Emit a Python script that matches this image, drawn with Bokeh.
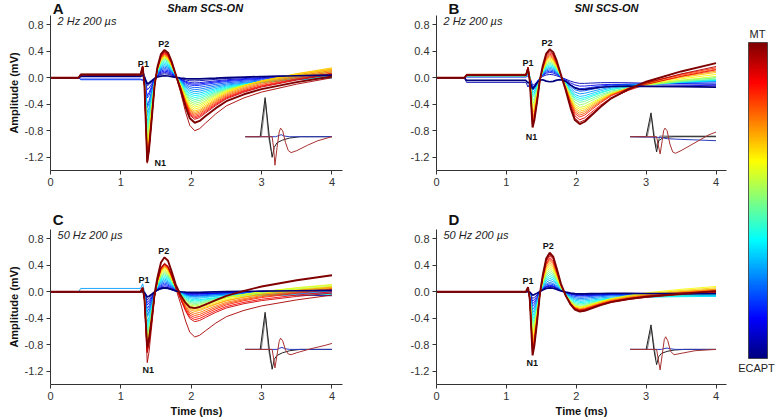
import numpy as np
from bokeh.plotting import figure
from bokeh.models import Range1d, FixedTicker, PrintfTickFormatter, Label, ColumnDataSource, LinearColorMapper
from bokeh.layouts import row, column
from bokeh.embed import file_html
from bokeh.resources import INLINE

# ---------------- data ----------------
# time knots (ms) and the normalised profile of each waveform component
KNOTS = [0, 0.40, 0.43, 1.28, 1.31, 1.335, 1.375, 1.40, 1.44, 1.48, 1.52, 1.57, 1.62, 1.67,
         1.72, 1.78, 1.85, 1.92, 1.98, 2.05, 2.12, 2.2, 2.35, 2.5, 2.75, 3.0, 3.5, 4.0]
W_BASE = [0, 0, 1, 1, 1, 1, 0.5, 0.3, 0.1, 0, 0, 0, 0, 0, 0, 0, 0, 0, 0, 0, 0, 0, 0, 0, 0, 0, 0, 0]
W_P1 = [0, 0, 0, 0, 1, 0, 0, 0, 0, 0, 0, 0, 0, 0, 0, 0, 0, 0, 0, 0, 0, 0, 0, 0, 0, 0, 0, 0]
W_N1 = [0, 0, 0, 0, 0, 0.12, 1, 0.85, 0.47, 0.15, 0.02, 0, 0, 0, 0, 0, 0, 0, 0, 0, 0, 0, 0, 0, 0, 0, 0, 0]
W_P2 = [0, 0, 0, 0, 0, 0, 0, 0, 0, 0.2, 0.45, 0.85, 1, 0.9, 0.6, 0.25, 0.05, 0, 0, 0, 0, 0, 0, 0, 0, 0, 0, 0]
W_TR = [0, 0, 0, 0, 0, 0, 0, 0, 0, 0, 0, 0, 0, 0, 0, 0.08, 0.3, 0.65, 0.9, 1, 0.96, 0.86, 0.68, 0.53, 0.38, 0.27, 0.12, 0]
W_END = [0, 0, 0, 0, 0, 0, 0, 0, 0, 0, 0, 0, 0, 0, 0, 0, 0, 0, 0, 0.05, 0.08, 0.12, 0.2, 0.3, 0.45, 0.6, 0.82, 1]

# Panel A  (Sham SCS-ON, 2 Hz) - traces from ECAPT (first) to MT (last)
A_n1 = [-0.10, -0.14, -0.20, -0.26, -0.33, -0.40, -0.47, -0.54, -0.60, -0.66, -0.72, -0.78, -0.84,
        -0.90, -0.96, -1.01, -1.06, -1.10, -1.14, -1.18, -1.21, -1.24, -1.27, -1.29, -1.31, -1.30]
A_p2 = [0.03, 0.06, 0.08, 0.10, 0.12, 0.14, 0.16, 0.18, 0.20, 0.22, 0.24, 0.26, 0.28,
        0.29, 0.30, 0.31, 0.32, 0.33, 0.34, 0.35, 0.36, 0.37, 0.38, 0.39, 0.40, 0.42]
A_tr = [-0.02, -0.05, -0.08, -0.10, -0.12, -0.15, -0.18, -0.21, -0.24, -0.27, -0.30, -0.33, -0.36,
        -0.39, -0.42, -0.45, -0.48, -0.51, -0.53, -0.55, -0.57, -0.59, -0.61, -0.63, -0.80, -0.68]
A_end = [0.04, 0.05, 0.04, 0.03, 0.02, 0.01, 0.00, 0.00, 0.00, 0.01, 0.02, 0.04, 0.06,
         0.08, 0.10, 0.12, 0.14, 0.15, 0.13, 0.11, 0.09, 0.07, 0.06, 0.05, 0.00, 0.02]
A_base = [0.02, 0.05, 0.04, -0.02, 0.05, -0.03, 0.04, 0.03, 0.05, 0.02, 0.04, 0.03, 0.05,
          0.04, 0.03, 0.05, 0.04, 0.05, 0.03, 0.04, 0.05, 0.03, 0.04, 0.05, 0.04, 0.05]
A_p1 = [0.00, 0.01, 0.01, 0.01, 0.02, 0.02, 0.02, 0.03, 0.03, 0.03, 0.04, 0.04, 0.04,
        0.05, 0.05, 0.05, 0.06, 0.06, 0.06, 0.07, 0.07, 0.07, 0.07, 0.08, 0.08, 0.07]

# Panel B  (SNI SCS-ON, 2 Hz)
B_n1 = [-0.15, -0.12, -0.13, -0.15, -0.18, -0.21, -0.24, -0.28, -0.32, -0.37,
        -0.42, -0.47, -0.52, -0.57, -0.62, -0.66, -0.70, -0.73, -0.76, -0.77]
B_p2 = [-0.06, 0.05, 0.08, 0.10, 0.12, 0.14, 0.16, 0.18, 0.20, 0.22,
        0.24, 0.26, 0.28, 0.30, 0.32, 0.34, 0.36, 0.38, 0.40, 0.43]
B_tr = [-0.17, -0.08, -0.12, -0.16, -0.20, -0.24, -0.28, -0.31, -0.34, -0.37,
        -0.41, -0.45, -0.48, -0.51, -0.54, -0.57, -0.60, -0.64, -0.68, -0.71]
B_end = [-0.14, -0.10, -0.12, -0.08, -0.06, -0.05, -0.03, -0.04, 0.00, -0.02,
         0.00, 0.02, 0.05, 0.08, 0.10, 0.13, 0.15, 0.12, 0.17, 0.22]
B_base = [-0.04, -0.07, 0.03, 0.01, 0.02, 0.04, 0.02, 0.03, 0.05, 0.04,
          0.03, 0.05, 0.04, 0.05, 0.03, 0.05, 0.04, 0.05, 0.05, 0.04]
B_p1 = [0.00, 0.00, 0.01, 0.01, 0.02, 0.02, 0.02, 0.03, 0.03, 0.03,
        0.04, 0.04, 0.04, 0.05, 0.05, 0.05, 0.06, 0.06, 0.06, 0.06]

# Panel C  (Sham SCS-ON, 50 Hz)
C_n1 = [-0.08, -0.12, -0.16, -0.20, -0.25, -0.30, -0.35, -0.40, -0.45, -0.50, -0.55, -0.60, -0.64,
        -0.68, -0.72, -0.75, -0.78, -0.80, -0.82, -0.84, -0.86, -0.88, -0.90, -0.92, -1.07, -0.84]
C_p2 = [0.06, 0.05, 0.07, 0.09, 0.11, 0.13, 0.15, 0.17, 0.19, 0.21, 0.23, 0.25, 0.27,
        0.29, 0.31, 0.33, 0.35, 0.37, 0.38, 0.39, 0.40, 0.41, 0.42, 0.43, 0.42, 0.52]
C_tr = [-0.01, -0.02, -0.03, -0.04, -0.05, -0.06, -0.07, -0.08, -0.10, -0.12, -0.14, -0.16, -0.18,
        -0.20, -0.22, -0.24, -0.26, -0.28, -0.30, -0.33, -0.36, -0.39, -0.42, -0.45, -0.68, -0.26]
C_end = [0.02, -0.06, 0.01, 0.03, 0.00, -0.02, 0.02, -0.03, 0.00, -0.04, 0.02, 0.04, 0.06,
         0.08, 0.10, 0.11, 0.08, 0.06, 0.07, 0.05, 0.04, 0.03, 0.00, -0.02, -0.05, 0.25]
C_base = [0.00, 0.00, 0.00, 0.00, 0.00, 0.00, 0.00, 0.05, 0.00, 0.00, 0.00, 0.00, 0.00,
          0.00, 0.00, 0.00, 0.00, 0.00, 0.00, 0.00, 0.00, 0.00, 0.00, 0.00, 0.00, 0.00]
C_p1 = [0.00, 0.00, 0.01, 0.01, 0.01, 0.02, 0.02, 0.02, 0.02, 0.03, 0.03, 0.03, 0.03,
        0.04, 0.04, 0.04, 0.04, 0.05, 0.05, 0.05, 0.05, 0.05, 0.06, 0.06, 0.06, 0.06]

# Panel D  (SNI SCS-ON, 50 Hz)
D_n1 = [-0.05, -0.10, -0.14, -0.18, -0.22, -0.27, -0.32, -0.37, -0.42, -0.47, -0.52,
        -0.57, -0.62, -0.67, -0.72, -0.77, -0.81, -0.85, -0.88, -0.91, -0.94, -0.96]
D_p2 = [0.06, 0.08, 0.09, 0.10, 0.12, 0.14, 0.17, 0.20, 0.23, 0.26, 0.29,
        0.32, 0.35, 0.38, 0.41, 0.44, 0.47, 0.49, 0.51, 0.54, 0.56, 0.59]
D_tr = [-0.03, -0.04, -0.05, -0.06, -0.08, -0.10, -0.12, -0.14, -0.16, -0.18, -0.20,
        -0.22, -0.23, -0.24, -0.25, -0.26, -0.27, -0.27, -0.28, -0.28, -0.29, -0.30]
D_end = [-0.03, -0.05, -0.06, -0.04, -0.02, -0.03, -0.05, -0.07, -0.06, -0.04, -0.02,
         0.00, 0.04, 0.08, 0.06, 0.04, 0.03, 0.02, 0.01, 0.00, -0.01, 0.01]
D_base = [0.00] * 22
D_p1 = [0.00, 0.00, 0.01, 0.01, 0.01, 0.02, 0.02, 0.02, 0.03, 0.03, 0.03,
        0.04, 0.04, 0.04, 0.05, 0.05, 0.05, 0.06, 0.06, 0.06, 0.07, 0.07]

# Insets (stimulus artefact in black/grey, MT response in red, ECAPT response in blue)
IA_black_t = [2.77, 2.98, 3.05, 3.11, 3.15, 3.18, 3.22, 3.3, 3.4, 3.55, 4.0]
IA_black_y = [-0.89, -0.89, -0.30, -0.89, -1.20, -1.05, -0.98, -0.94, -0.91, -0.89, -0.89]
IA_grey_t = [2.995, 3.055, 3.10, 3.135]
IA_grey_y = [-0.89, -0.36, -0.89, -1.10]
IA_red_t = [2.77, 3.15, 3.17, 3.19, 3.22, 3.25, 3.27, 3.30, 3.34, 3.38, 3.42, 3.5, 3.65, 3.8, 4.0]
IA_red_y = [-0.89, -0.89, -1.05, -1.32, -1.05, -0.82, -0.76, -0.80, -0.98, -1.10, -1.13, -1.10, -1.02, -0.95, -0.89]
IA_blue_t = [2.77, 3.2, 3.25, 3.28, 3.32, 3.4, 4.0]
IA_blue_y = [-0.89, -0.89, -0.87, -0.86, -0.88, -0.89, -0.89]

IB_black_t = [2.77, 3.0, 3.07, 3.11, 3.15, 3.18, 3.25, 3.4, 4.0]
IB_black_y = [-0.89, -0.89, -0.53, -0.89, -1.12, -0.95, -0.90, -0.89, -0.89]
IB_grey_t = [3.015, 3.075, 3.12, 3.14, 3.2, 4.0]
IB_grey_y = [-0.89, -0.58, -0.89, -1.05, -0.88, -0.88]
IB_red_t = [2.77, 3.15, 3.17, 3.2, 3.23, 3.25, 3.27, 3.3, 3.34, 3.38, 3.42, 3.5, 3.7, 3.9, 4.0]
IB_red_y = [-0.89, -0.89, -1.0, -1.15, -0.95, -0.80, -0.76, -0.80, -1.0, -1.12, -1.14, -1.10, -0.98, -0.86, -0.82]
IB_blue_t = [2.77, 3.2, 3.3, 3.5, 4.0]
IB_blue_y = [-0.89, -0.90, -0.92, -0.93, -0.95]

IC_black_t = [2.77, 2.98, 3.05, 3.11, 3.15, 3.18, 3.22, 3.3, 3.4, 3.55, 4.0]
IC_black_y = [-0.87, -0.87, -0.31, -0.87, -1.17, -1.02, -0.96, -0.92, -0.89, -0.87, -0.87]
IC_grey_t = [2.995, 3.055, 3.10, 3.135]
IC_grey_y = [-0.87, -0.37, -0.87, -1.08]
IC_red_t = [2.77, 3.15, 3.17, 3.19, 3.22, 3.25, 3.27, 3.30, 3.34, 3.38, 3.42, 3.5, 3.7, 3.9, 4.0]
IC_red_y = [-0.87, -0.87, -1.0, -1.15, -0.95, -0.75, -0.70, -0.74, -0.88, -0.94, -0.95, -0.92, -0.86, -0.81, -0.78]
IC_blue_t = [2.77, 3.22, 3.26, 3.29, 3.33, 3.4, 4.0]
IC_blue_y = [-0.87, -0.87, -0.85, -0.84, -0.86, -0.87, -0.87]

ID_black_t = [2.77, 3.0, 3.07, 3.11, 3.15, 3.18, 3.22, 3.3, 3.4, 3.55, 4.0]
ID_black_y = [-0.87, -0.87, -0.50, -0.87, -1.10, -0.98, -0.93, -0.90, -0.88, -0.87, -0.87]
ID_grey_t = [3.015, 3.075, 3.12, 3.14]
ID_grey_y = [-0.87, -0.55, -0.87, -1.02]
ID_red_t = [2.77, 3.15, 3.17, 3.2, 3.23, 3.26, 3.28, 3.31, 3.35, 3.4, 3.5, 3.7, 4.0]
ID_red_y = [-0.87, -0.87, -1.0, -1.18, -0.95, -0.72, -0.68, -0.74, -0.90, -0.95, -0.93, -0.89, -0.87]
ID_blue_t = [2.77, 3.22, 3.27, 3.3, 3.34, 3.42, 4.0]
ID_blue_y = [-0.87, -0.87, -0.855, -0.85, -0.86, -0.87, -0.87]

X_TICKS = [0, 1, 2, 3, 4]
Y_TICKS = [-1.2, -0.8, -0.4, 0.0, 0.4, 0.8]

FONT = "Liberation Sans"
TXT = "#333333"


def jet(x):
    r = min(max(1.5 - abs(4 * x - 3), 0), 1)
    g = min(max(1.5 - abs(4 * x - 2), 0), 1)
    b = min(max(1.5 - abs(4 * x - 1), 0), 1)
    return "#%02x%02x%02x" % (int(r * 255), int(g * 255), int(b * 255))


def traces(n1, p2, tr, en, base, p1):
    K = np.array(KNOTS)
    out = []
    for i in range(len(n1)):
        y = (base[i] * np.array(W_BASE) + (base[i] + p1[i]) * np.array(W_P1)
             + n1[i] * np.array(W_N1) + p2[i] * np.array(W_P2)
             + tr[i] * np.array(W_TR) + en[i] * np.array(W_END))
        out.append((K, y))
    return out


def header(width, height, letter, letter_x, letter_y, title=None, title_x=None, title_y=None):
    h = figure(width=width, height=height, output_backend="svg", toolbar_location=None,
               x_range=Range1d(0, width), y_range=Range1d(0, height),
               x_axis_type=None, y_axis_type=None, min_border=0)
    h.outline_line_color = None
    h.grid.visible = False
    h.add_layout(Label(x=letter_x, y=letter_y, text=letter, text_font=FONT, text_font_size="15px",
                       text_font_style="bold", text_color="#111111", text_baseline="middle",
                       text_align="left"))
    if title:
        h.add_layout(Label(x=title_x, y=title_y, text=title, text_font=FONT, text_font_size="11px",
                           text_font_style="bold italic", text_color="#111111", text_baseline="middle",
                           text_align="center"))
    return h


def panel(data, inset, width, height, mbl, mbr, mbb, note, peaks, ylabel, xlabel):
    p = figure(width=width, height=height, output_backend="svg", toolbar_location=None,
               x_range=Range1d(0, 4.15), y_range=Range1d(-1.4, 0.94),
               min_border_left=mbl, min_border_right=mbr, min_border_top=0, min_border_bottom=mbb)
    p.outline_line_color = None
    p.grid.visible = False
    for ax in (p.xaxis[0], p.yaxis[0]):
        ax.axis_line_color = TXT
        ax.major_tick_line_color = TXT
        ax.major_tick_out = 4
        ax.major_tick_in = 0
        ax.minor_tick_line_color = None
        ax.major_label_text_font = FONT
        ax.major_label_text_font_size = "11px"
        ax.major_label_text_color = TXT
        ax.major_label_standoff = 3
        ax.axis_label_text_font = FONT
        ax.axis_label_text_font_size = "11px"
        ax.axis_label_text_font_style = "bold"
        ax.axis_label_text_color = "#111111"
        ax.axis_label_standoff = 2
    p.xaxis.ticker = FixedTicker(ticks=X_TICKS)
    p.yaxis.ticker = FixedTicker(ticks=Y_TICKS)
    p.yaxis.formatter = PrintfTickFormatter(format="%.1f")
    if ylabel:
        p.yaxis.axis_label = ylabel
    if xlabel:
        p.xaxis.axis_label = xlabel

    tr = traces(*data)
    n = len(tr)
    cols = [jet(i / (n - 1)) for i in range(n)]
    src = ColumnDataSource(dict(xs=[t[0] for t in tr[1:-1]], ys=[t[1] for t in tr[1:-1]], c=cols[1:-1]))
    p.multi_line("xs", "ys", line_color="c", line_width=0.9, source=src)
    p.line(tr[0][0], tr[0][1], line_color=cols[0], line_width=1.7)
    p.line(tr[-1][0], tr[-1][1], line_color=cols[-1], line_width=1.9)

    (bt, by), (gt, gy), (rt, ry), (ut, uy) = inset
    p.line(gt, gy, line_color="#8a8a8a", line_width=1.2)
    p.line(bt, by, line_color="#222222", line_width=1.0)
    p.line(ut, uy, line_color="#2b3bbf", line_width=1.0)
    p.line(rt, ry, line_color="#a83232", line_width=1.0)

    p.add_layout(Label(x=0.1, y=0.86, text=note, text_font=FONT, text_font_size="11px",
                       text_font_style="italic", text_color="#222222", text_baseline="middle"))
    for name, (x, y) in zip(["P1", "P2", "N1"], peaks):
        p.add_layout(Label(x=x, y=y, text=name, text_font=FONT, text_font_size="9px",
                           text_font_style="bold", text_color="#111111", text_baseline="middle",
                           text_align="center"))
    return p


WL, WR = 370, 360          # column widths
H_TOP_HEAD, H_TOP = 15, 190
H_BOT_HEAD, H_BOT = 24, 190

hA = header(WL, H_TOP_HEAD, "A", 3, 7.5, "Sham SCS-ON", 196, 7.5)
hB = header(WR, H_TOP_HEAD, "B", 15, 7.5, "SNI SCS-ON", 211, 7.5)
hC = header(WL, H_BOT_HEAD, "C", 3, 10)
hD = header(WR, H_BOT_HEAD, "D", 15, 10)

pA = panel((A_n1, A_p2, A_tr, A_end, A_base, A_p1),
           ((IA_black_t, IA_black_y), (IA_grey_t, IA_grey_y), (IA_red_t, IA_red_y), (IA_blue_t, IA_blue_y)),
           WL, H_TOP, 50, 28, 35, "2 Hz 200 \u00b5s",
           [(1.32, 0.21), (1.61, 0.51), (1.56, -1.29)], "Amplitude (mV)", None)
pB = panel((B_n1, B_p2, B_tr, B_end, B_base, B_p1),
           ((IB_black_t, IB_black_y), (IB_grey_t, IB_grey_y), (IB_red_t, IB_red_y), (IB_blue_t, IB_blue_y)),
           WR, H_TOP, 66, 4, 35, "2 Hz 200 \u00b5s",
           [(1.31, 0.23), (1.58, 0.53), (1.36, -0.89)], None, None)
pC = panel((C_n1, C_p2, C_tr, C_end, C_base, C_p1),
           ((IC_black_t, IC_black_y), (IC_grey_t, IC_grey_y), (IC_red_t, IC_red_y), (IC_blue_t, IC_blue_y)),
           WL, H_BOT, 50, 28, 35, "50 Hz 200 \u00b5s",
           [(1.33, 0.18), (1.61, 0.62), (1.39, -1.18)], "Amplitude (mV)", "Time (ms)")
pD = panel((D_n1, D_p2, D_tr, D_end, D_base, D_p1),
           ((ID_black_t, ID_black_y), (ID_grey_t, ID_grey_y), (ID_red_t, ID_red_y), (ID_blue_t, ID_blue_y)),
           WR, H_BOT, 66, 4, 35, "50 Hz 200 \u00b5s",
           [(1.31, 0.17), (1.60, 0.69), (1.37, -1.07)], None, "Time (ms)")

# colour bar
CB_W = 46
CB_H = H_TOP_HEAD + H_TOP + H_BOT_HEAD + H_BOT
cb = figure(width=CB_W, height=CB_H, output_backend="svg", toolbar_location=None,
            x_range=Range1d(0, CB_W), y_range=Range1d(0, CB_H),
            x_axis_type=None, y_axis_type=None, min_border=0)
cb.grid.visible = False
cb.outline_line_color = None
palette = [jet(i / 255) for i in range(256)]
mapper = LinearColorMapper(palette=palette, low=0, high=1)
cb.image(image=[np.linspace(0, 1, 256).reshape(256, 1)], x=18, y=CB_H - 358, dw=19, dh=316,
         color_mapper=mapper)
cb.rect(x=27.5, y=CB_H - 200, width=19, height=316, fill_color=None, line_color="#333333", line_width=0.8)
cb.add_layout(Label(x=27, y=CB_H - 33, text="MT", text_font=FONT, text_font_size="11px", text_color="#222222",
                    text_align="center", text_baseline="middle"))
cb.add_layout(Label(x=26, y=CB_H - 367, text="ECAPT", text_font=FONT, text_font_size="11px",
                    text_color="#222222", text_align="center", text_baseline="middle"))

layout = row(column(hA, pA, hC, pC), column(hB, pB, hD, pD), cb)
open("out.html", "w").write(file_html(layout, INLINE))
